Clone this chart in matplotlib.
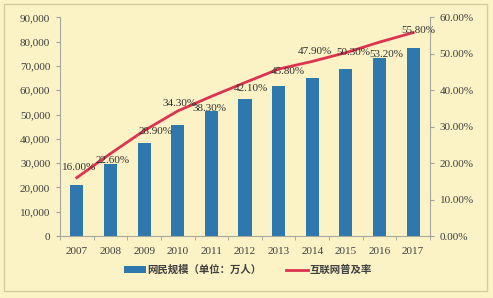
import matplotlib
matplotlib.use("Agg")
import matplotlib.pyplot as plt
from matplotlib.patches import Rectangle
from matplotlib.ticker import FuncFormatter, MultipleLocator

years = ["2007", "2008", "2009", "2010", "2011", "2012", "2013", "2014", "2015", "2016", "2017"]
users = [21000, 29800, 38400, 45730, 51310, 56400, 61758, 64875, 68826, 73125, 77198]
rates = [16.0, 22.6, 28.9, 34.3, 38.3, 42.1, 45.8, 47.9, 50.3, 53.2, 55.8]
rate_labels = ["16.00%", "22.60%", "28.90%", "34.30%", "38.30%", "42.10%",
               "45.80%", "47.90%", "50.30%", "53.20%", "55.80%"]
label_offsets = [(2, 10), (2, -7), (11, -1), (2, 7), (-2, -12), (6, -6),
                 (9, -2), (3, 10), (7, 0), (7, -12), (5, 2)]
bar_name = "网民规模（单位：万人）"
line_name = "互联网普及率"

bg = "#FBF2C6"
txt = "#404040"
serif = ["Liberation Serif", "DejaVu Serif"]
cjk = ["Noto Sans CJK SC", "DejaVu Sans"]

fig = plt.figure(figsize=(4.93, 2.98), dpi=100)
fig.patch.set_facecolor(bg)
fig.patches.append(Rectangle((4 / 493, 1 - 291 / 298), 483 / 493, 287 / 298,
                             transform=fig.transFigure, fill=False,
                             edgecolor="#D5CB9E", linewidth=1.0))

ax = fig.add_axes([60 / 493, 62 / 298, 370 / 493, 218.7 / 298])
ax.set_facecolor("none")
x = list(range(len(years)))
ax.bar(x, users, width=0.39, color="#2E78AE", label=bar_name, zorder=2)
ax.set_xlim(-0.5, len(years) - 0.5)
ax.set_ylim(0, 90000)
ax.yaxis.set_major_locator(MultipleLocator(10000))
ax.yaxis.set_major_formatter(FuncFormatter(lambda v, p: f"{int(v):,}"))
ax.set_xticks(x)
ax.set_xticklabels(years)
ax.set_xticks([i - 0.5 for i in range(len(years) + 1)], minor=True)
ax.tick_params(axis="x", which="major", length=0, pad=8, labelsize=8, labelcolor=txt)
ax.tick_params(axis="x", which="minor", length=3, color="#A0A0A0", direction="out")
ax.tick_params(axis="y", length=3, color="#A0A0A0", labelsize=8, labelcolor=txt, pad=4)
for lab in ax.get_xticklabels() + ax.get_yticklabels():
    lab.set_family(serif)
for s in ["top", "right"]:
    ax.spines[s].set_visible(False)
for s in ["left", "bottom"]:
    ax.spines[s].set_color("#A8A8A0")
    ax.spines[s].set_linewidth(0.8)

ax2 = ax.twinx()
ax2.plot(x, rates, color="#DC3450", linewidth=2, label=line_name, zorder=3)
ax2.set_ylim(0, 60)
ax2.yaxis.set_major_locator(MultipleLocator(10))
ax2.yaxis.set_major_formatter(FuncFormatter(lambda v, p: f"{v:.2f}%"))
ax2.tick_params(axis="y", length=3, color="#A0A0A0", labelsize=8, labelcolor=txt, pad=4)
for lab in ax2.get_yticklabels():
    lab.set_family(serif)
for s in ["top", "left", "bottom"]:
    ax2.spines[s].set_visible(False)
ax2.spines["right"].set_color("#A8A8A0")
ax2.spines["right"].set_linewidth(0.8)

for xi, r, lab, off in zip(x, rates, rate_labels, label_offsets):
    ax2.annotate(lab, (xi, r), xytext=off, textcoords="offset pixels",
                 ha="center", va="center", fontsize=8, color="#303030",
                 family=serif, zorder=4)

h1, l1 = ax.get_legend_handles_labels()
h2, l2 = ax2.get_legend_handles_labels()
leg = fig.legend(h1 + h2, l1 + l2, loc="center", bbox_to_anchor=(248 / 493, 1 - 270 / 298),
                 ncol=2, frameon=False, handlelength=2.1, handleheight=0.65,
                 columnspacing=2.4, handletextpad=0.15,
                 prop={"family": cjk, "size": 7.5, "weight": "bold"})
for t in leg.get_texts():
    t.set_color("#404040")

fig.savefig("out.png", dpi=100, facecolor=bg)
